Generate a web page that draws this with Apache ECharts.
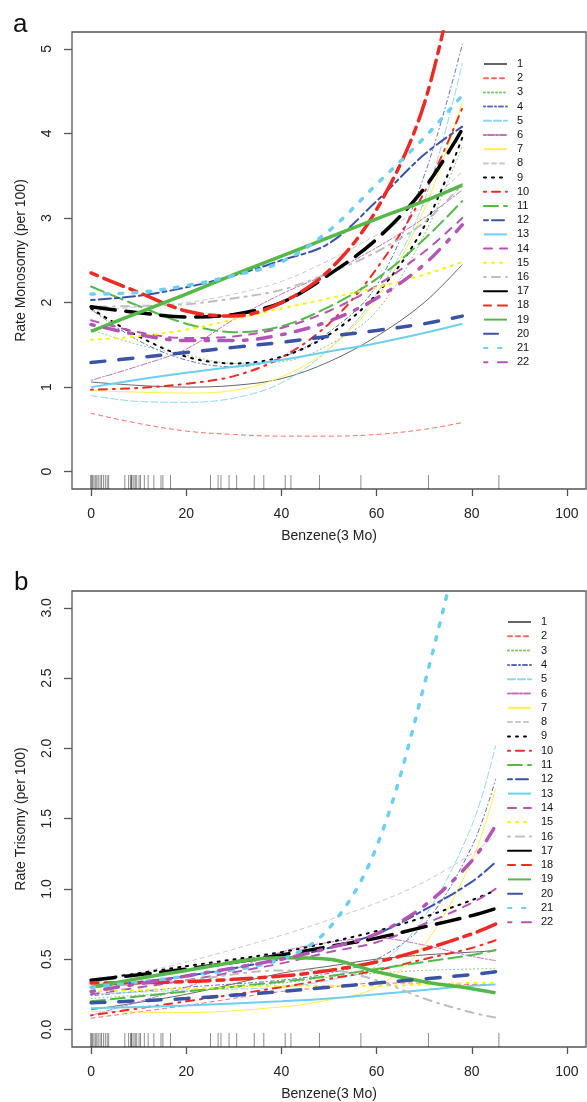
<!DOCTYPE html>
<html><head><meta charset="utf-8">
<script src="https://cdn.jsdelivr.net/npm/echarts@6/dist/echarts.min.js"></script>
<style>html,body{margin:0;padding:0;background:#fff}#c{width:587px;height:1102px}</style>
</head><body><div id="c"></div>
<script>
// ---------- data ----------
const seriesNames = ['1','2','3','4','5','6','7','8','9','10','11','12','13','14','15','16','17','18','19','20','21','22'];
const xTicks = [0,20,40,60,80,100];
const yTicksA = [0,1,2,3,4,5];
const yTicksB = [0,0.5,1,1.5,2,2.5,3];
// benzene exposure values of subjects (rug)
const rugValues = [0,0,0.3,0.6,0.9,1.2,1.5,1.9,2.2,2.6,3.0,3.4,3.7,7.1,7.9,8.3,8.5,8.6,9.0,9.3,9.6,10.1,10.4,11.2,12.0,13.2,14.7,15.1,16.7,25.1,26.7,27.3,29.0,30.6,34.3,36.3,40.8,42.0,48.0,56.7,70.9,85.7];

// Panel a: Rate Monosomy at benzene levels
const xMono = [0,10,20,30,40,50,60,70,78];
const mono1  = [1.06,1.02,1.00,1.02,1.10,1.30,1.60,2.00,2.45];
const mono2  = [0.69,0.57,0.48,0.44,0.42,0.42,0.44,0.50,0.58];
const mono3  = [1.68,1.50,1.38,1.28,1.30,1.50,1.90,2.80,3.85];
const mono4  = [1.92,1.55,1.32,1.24,1.35,1.65,2.20,3.50,5.05];
const mono5  = [0.90,0.83,0.82,0.87,1.05,1.45,2.10,3.20,4.83];
const mono6  = [1.08,1.25,1.45,1.80,2.10,2.35,2.65,3.00,3.33];
const mono7  = [0.96,0.94,0.93,0.96,1.12,1.45,2.05,3.10,4.37];
const mono8  = [1.90,1.95,2.00,2.10,2.25,2.50,2.80,3.15,3.55];
const mono9  = [1.93,1.60,1.36,1.28,1.36,1.62,2.10,2.90,3.95];
const mono10 = [0.97,0.99,1.04,1.13,1.35,1.75,2.40,3.30,4.30];
const mono11 = [2.19,1.96,1.75,1.65,1.72,1.95,2.28,2.75,3.20];
const mono12 = [2.03,2.08,2.18,2.32,2.50,2.70,3.20,3.75,4.08];
const mono13 = [1.00,1.09,1.17,1.24,1.32,1.42,1.52,1.64,1.75];
const mono14 = [1.79,1.65,1.58,1.60,1.70,1.90,2.20,2.60,3.00];
const mono15 = [1.56,1.60,1.68,1.80,1.93,2.05,2.18,2.33,2.48];
const mono16 = [1.95,1.96,1.98,2.05,2.15,2.35,2.60,2.95,3.40];
const mono17 = [1.95,1.88,1.83,1.86,2.00,2.33,2.75,3.35,4.05];
const mono18 = [2.35,2.12,1.90,1.84,2.00,2.38,3.10,4.35,6.30];
const mono19 = [1.66,1.88,2.10,2.33,2.55,2.77,2.99,3.20,3.39];
const mono20 = [1.29,1.35,1.41,1.47,1.53,1.60,1.67,1.75,1.84];
const mono21 = [2.10,2.12,2.20,2.32,2.48,2.85,3.40,3.95,4.45];
const mono22 = [1.74,1.62,1.55,1.55,1.62,1.78,2.05,2.45,2.92];

// Panel b: Rate Trisomy at benzene levels
const xTri = [0,20,40,50,60,70,80,85];
const tri1  = [0.14,0.25,0.40,0.45,0.50,0.53,0.55,0.56];
const tri2  = [0.08,0.17,0.27,0.30,0.33,0.33,0.32,0.32];
const tri3  = [0.22,0.27,0.33,0.37,0.40,0.42,0.43,0.435];
const tri4  = [0.24,0.30,0.35,0.40,0.50,0.75,1.30,1.78];
const tri5  = [0.25,0.28,0.30,0.35,0.45,0.80,1.45,2.02];
const tri6  = [0.10,0.30,0.55,0.62,0.65,0.60,0.52,0.49];
const tri7  = [0.13,0.12,0.16,0.21,0.30,0.60,1.20,1.71];
const tri8  = [0.33,0.48,0.67,0.78,0.90,1.05,1.25,1.38];
const tri9  = [0.35,0.45,0.55,0.62,0.70,0.80,0.92,0.99];
const tri10 = [0.10,0.20,0.30,0.36,0.42,0.50,0.58,0.635];
const tri11 = [0.20,0.27,0.34,0.38,0.43,0.48,0.53,0.565];
const tri12 = [0.30,0.38,0.50,0.58,0.68,0.85,1.05,1.19];
const tri13 = [0.15,0.17,0.20,0.22,0.25,0.28,0.31,0.32];
const tri14 = [0.25,0.35,0.47,0.55,0.62,0.75,0.90,1.00];
const tri15 = [0.27,0.29,0.31,0.31,0.31,0.32,0.33,0.33];
const tri16 = [0.30,0.35,0.42,0.42,0.35,0.22,0.12,0.085];
const tri17 = [0.35,0.43,0.53,0.59,0.65,0.73,0.81,0.86];
const tri18 = [0.33,0.34,0.38,0.42,0.48,0.57,0.68,0.75];
const tri19 = [0.30,0.42,0.51,0.50,0.41,0.34,0.29,0.26];
const tri20 = [0.19,0.22,0.27,0.30,0.33,0.36,0.39,0.41];
const tri21 = [0.30,0.38,0.50,0.72,1.30,2.45,3.90,5.00];
const tri22 = [0.27,0.38,0.50,0.58,0.68,0.88,1.20,1.45];

const monoSeries = [mono1,mono2,mono3,mono4,mono5,mono6,mono7,mono8,mono9,mono10,mono11,mono12,mono13,mono14,mono15,mono16,mono17,mono18,mono19,mono20,mono21,mono22];
const triSeries  = [tri1,tri2,tri3,tri4,tri5,tri6,tri7,tri8,tri9,tri10,tri11,tri12,tri13,tri14,tri15,tri16,tri17,tri18,tri19,tri20,tri21,tri22];

// ---------- styles ----------
const palette = ['#000000','#ee2a24','#55b948','#3a53a4','#6dcff0','#b455b6','#fff200','#bebebe'];
const thinColors = ['#666666','#f46a60','#7cc96a','#5a6cc0','#8fd8f0','#c070c0','#fff04a','#c8c8c8'];
const ltyUnits = [null,[4,4],[1,3],[1,3,4,3],[7,3],[2,2,6,2]];
function styleFor(i){
  const grp = Math.floor(i/8); // 0 thin,1 medium,2 thick
  const w = grp===0 ? 1 : (grp===1 ? 2 : 3.5);
  const color = grp===0 ? thinColors[i%8] : palette[i%8];
  const u = ltyUnits[i%6];
  const type = u ? u.map(v=>v*w) : 'solid';
  return {color, width:w, type, cap: u ? 'round' : 'butt'};
}

const FONT = 'Liberation Sans, Arial, Helvetica, sans-serif';
const chart = echarts.init(document.getElementById('c'), null, {renderer:'canvas'});

const gridA = {left:72, top:32, width:514, height:457, show:true, borderColor:'#555', borderWidth:1.3, backgroundColor:'transparent'};
const gridB = {left:72, top:591, width:514, height:458, show:true, borderColor:'#555', borderWidth:1.3, backgroundColor:'transparent'};

function xAxis(gi){
  return {type:'value', gridIndex:gi, min:-4, max:104, position:'bottom', name:'Benzene(3 Mo)', nameLocation:'middle', nameGap:40,
    nameTextStyle:{fontFamily:FONT, fontSize:14, color:'#222'},
    axisLine:{show:false, onZero:false}, splitLine:{show:false},
    axisTick:{show:true, inside:false, length:7, customValues:xTicks, lineStyle:{color:'#555', width:1.3}},
    axisLabel:{fontFamily:FONT, fontSize:14, color:'#222', margin:18, customValues:xTicks}};
}
function yAxis(gi, min, max, ticks, fmt, name){
  return {type:'value', gridIndex:gi, min, max, position:'left', name, nameLocation:'middle', nameGap:44, nameRotate:90,
    nameTextStyle:{fontFamily:FONT, fontSize:14, color:'#222'},
    axisLine:{show:false, onZero:false}, splitLine:{show:false},
    axisTick:{show:true, inside:false, length:8, customValues:ticks, lineStyle:{color:'#555', width:1.3}},
    axisLabel:{fontFamily:FONT, fontSize:14, color:'#222', margin:18, rotate:90, customValues:ticks, formatter:fmt}};
}

const series = [];
function addRug(gi, ymin){
  series.push({type:'custom', xAxisIndex:gi, yAxisIndex:gi, silent:true, z:1,
    data: rugValues.map(v=>[v, ymin]), encode:{x:0,y:1},
    renderItem:(params, api)=>{
      const p = api.coord([api.value(0), api.value(1)]);
      return {type:'line', shape:{x1:p[0], y1:p[1], x2:p[0], y2:p[1]-14}, style:{stroke:'rgba(0,0,0,0.45)', lineWidth:1}};
    }});
}
addRug(0, -0.205);
addRug(1, -0.125);
monoSeries.forEach((vals,i)=>{
  series.push({type:'line', name:seriesNames[i], xAxisIndex:0, yAxisIndex:0, symbol:'none', showSymbol:false, smooth:0.35, silent:true,
    clip:true, lineStyle:styleFor(i), itemStyle:{color:styleFor(i).color},
    data: xMono.map((x,j)=>[x, vals[j]])});
});
triSeries.forEach((vals,i)=>{
  series.push({type:'line', name:seriesNames[i], xAxisIndex:1, yAxisIndex:1, symbol:'none', showSymbol:false, smooth:0.35, silent:true,
    clip:true, lineStyle:styleFor(i), itemStyle:{color:styleFor(i).color},
    data: xTri.map((x,j)=>[x, vals[j]])});
});

function legend(left, top, gap){
  return {orient:'vertical', left, top, itemWidth:23, itemHeight:12, itemGap:gap, selectedMode:false,
    data:seriesNames, itemStyle:{opacity:0},
    textStyle:{fontFamily:FONT, fontSize:11, color:'#111', lineHeight:12, padding:[0,0,0,5]}};
}

chart.setOption({
  animation:false,
  backgroundColor:'#fff',
  title:[
    {text:'a', left:8, top:7, textStyle:{fontFamily:FONT, fontSize:26, fontWeight:'normal', color:'#111'}},
    {text:'b', left:9, top:565, textStyle:{fontFamily:FONT, fontSize:26, fontWeight:'normal', color:'#111'}}
  ],
  grid:[gridA, gridB],
  xAxis:[xAxis(0), xAxis(1)],
  yAxis:[yAxis(0,-0.205,5.2,yTicksA,v=>String(v),'Rate Monosomy (per 100)'),
         yAxis(1,-0.125,3.12,yTicksB,v=>v.toFixed(1),'Rate Trisomy (per 100)')],
  legend:[legend(478, 53, 2.2), legend(502, 611, 2.3)],
  series
});
</script></body></html>
